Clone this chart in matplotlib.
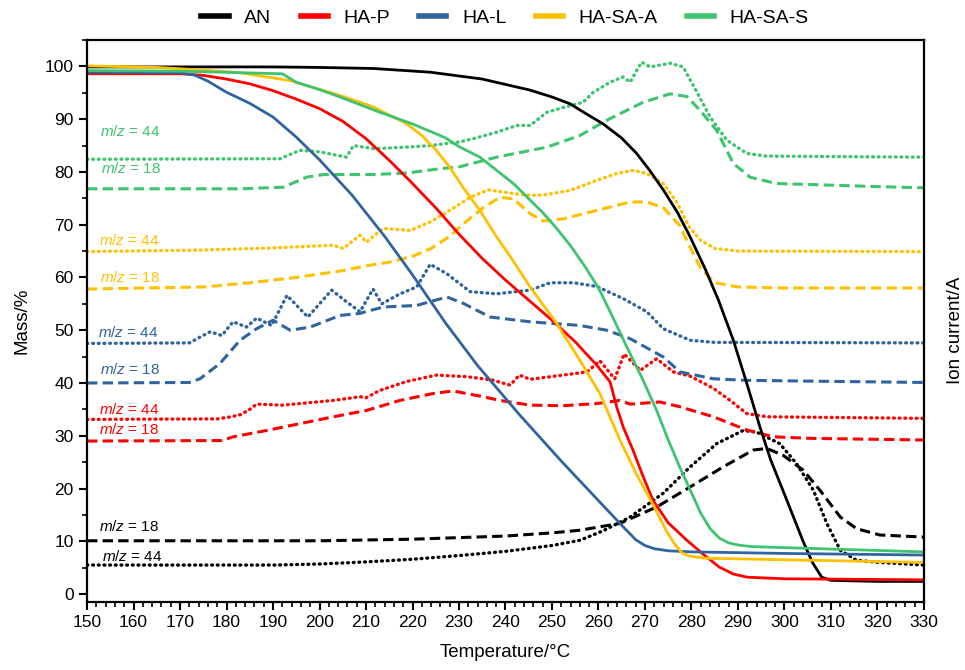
import matplotlib
matplotlib.use("Agg")
import matplotlib.pyplot as plt
from matplotlib.ticker import MultipleLocator

plt.rcParams['font.family'] = ['Liberation Sans', 'DejaVu Sans']
plt.rcParams['mathtext.fontset'] = 'custom'
plt.rcParams['mathtext.it'] = 'Liberation Sans:italic'
plt.rcParams['mathtext.rm'] = 'Liberation Sans'

# ---------------- Mass curves (TG) ----------------
an_T = [150, 170, 190, 200, 211.6, 223.8, 235, 245.3, 250, 253.9, 257, 261, 265, 268.2, 271, 274, 277, 279.7, 283, 285.8, 289, 291.9, 294.7, 297, 300.5, 304, 306, 308, 310, 320, 330]
an_m = [99.9, 99.9, 99.9, 99.8, 99.6, 98.9, 97.6, 95.5, 94.2, 92.9, 91.2, 89.1, 86.4, 83.5, 80.3, 76.5, 72.3, 67.7, 61.5, 55.7, 48.1, 39.9, 31.7, 25.5, 17.8, 10.0, 6.0, 3.2, 2.6, 2.4, 2.4]

hap_T = [150, 170, 175, 180, 185, 190, 195, 200, 205, 210, 215, 220, 225, 230, 235, 240, 245, 250, 255, 259.6, 262.5, 263.9, 265.3, 267.4, 269.5, 271.7, 275, 279, 283, 286, 289, 292, 300, 330]
hap_m = [98.6, 98.6, 98.3, 97.6, 96.7, 95.4, 93.8, 92.0, 89.6, 86.3, 82.2, 77.8, 73.2, 68.2, 63.6, 59.5, 55.7, 51.9, 47.8, 43.4, 40.2, 35.5, 31.7, 27.3, 22.5, 17.8, 13.5, 10.2, 7.2, 5.1, 3.8, 3.2, 2.9, 2.7]

hal_T = [150, 170, 173, 176, 180, 185, 190, 195, 200, 207, 214, 220, 227, 234, 243, 252, 260, 264.6, 268, 270, 272, 275, 280, 300, 330]
hal_m = [98.9, 98.8, 98.4, 97.2, 95.1, 93.0, 90.4, 86.6, 82.3, 75.6, 67.8, 60.5, 51.5, 43.3, 34.0, 25.2, 17.7, 13.4, 10.3, 9.2, 8.6, 8.2, 8.0, 7.7, 7.4]

haa_T = [150, 165, 175, 182.9, 193.7, 204.4, 211.6, 218.8, 222, 225, 228, 231, 234.5, 238, 241, 245.3, 251, 256, 260.3, 264.6, 268, 271.7, 274.7, 276.5, 278, 279.5, 283, 300, 330]
haa_m = [100.1, 99.8, 99.3, 98.8, 97.3, 94.5, 92.3, 89.1, 86.9, 84.2, 80.9, 76.9, 72.7, 67.8, 64.0, 58.2, 51.3, 44.3, 38.0, 29.2, 23.0, 17.0, 11.8, 9.3, 7.8, 7.2, 6.8, 6.5, 6.0]

has_T = [150, 170, 183, 192, 195, 200, 204.4, 213, 220, 227, 230, 234.5, 241.7, 248, 251, 254, 257, 260, 263, 266, 269.6, 272.5, 275, 277.5, 280, 282, 284, 286, 288, 290, 293, 300, 315, 330]
has_m = [99.2, 99.1, 98.8, 98.6, 97.0, 95.6, 94.2, 91.3, 89.1, 86.5, 84.8, 82.8, 77.8, 72.3, 69.3, 66.0, 62.2, 58.0, 52.6, 47.0, 40.5, 34.8, 29.2, 24.0, 19.2, 15.3, 12.4, 10.6, 9.7, 9.3, 9.0, 8.8, 8.4, 8.0]

# ---------------- Ion current curves (offset, arbitrary units) ----------------
an44_T = [150, 190, 200, 210, 220, 230, 240, 250, 256, 261, 266.8, 273.9, 279.7, 285.4, 291.1, 294, 299, 302.6, 306.2, 309.1, 312, 315.5, 320.5, 330]
an44_v = [5.5, 5.5, 5.7, 6.1, 6.6, 7.3, 8.1, 9.2, 10.2, 12.0, 14.6, 19.1, 24.1, 28.5, 31.0, 30.7, 28.5, 24.7, 19.7, 13.4, 8.3, 6.4, 6.0, 5.5]
an18_T = [150, 200, 220, 240, 250, 256, 264.6, 272.5, 279.7, 286.8, 293.3, 296.2, 299.7, 304, 307.6, 312, 315.5, 320.5, 330]
an18_v = [10.1, 10.1, 10.4, 11.0, 11.6, 12.1, 13.4, 16.5, 20.3, 24.1, 27.3, 27.6, 26.3, 23.5, 19.7, 14.6, 12.4, 11.2, 10.8]

hap44_T = [150, 178, 181, 183, 185, 186.5, 192, 203, 208.7, 210, 213, 218.8, 225.2, 231.6, 237, 241, 243, 245.3, 252.4, 257.5, 260.3, 263.5, 265.5, 269, 272.5, 276.1, 279.7, 284.7, 288.3, 291.9, 296.2, 330]
hap44_v = [33.1, 33.2, 33.6, 34.0, 35.0, 36.0, 35.8, 36.7, 37.4, 37.2, 38.6, 40.3, 41.5, 41.2, 40.6, 39.6, 41.5, 40.7, 41.5, 42.1, 44.2, 40.8, 45.5, 42.4, 44.6, 42.1, 41.3, 39.0, 36.7, 34.2, 33.6, 33.3]
hap18_T = [150, 179, 181.4, 188.6, 195.8, 203, 210.1, 217.3, 224.4, 228.7, 235.2, 238.8, 245.3, 252.4, 259.6, 264.6, 266.8, 273.2, 277.5, 284.7, 291.9, 297.6, 306.2, 330]
hap18_v = [29.0, 29.1, 29.8, 31.0, 32.3, 33.6, 34.8, 36.7, 38.0, 38.5, 37.4, 36.7, 35.8, 35.7, 36.1, 36.7, 36.0, 36.4, 35.5, 33.6, 31.1, 29.8, 29.5, 29.2]

hal44_T = [150, 172, 174.3, 176.5, 179, 181.4, 184.3, 186.5, 189.7, 193, 197.5, 202.6, 205.8, 208.7, 211.5, 213.4, 217.3, 220.9, 223.8, 227.4, 232.4, 238.1, 245.3, 249.6, 254.6, 259.6, 265.3, 270.4, 273.9, 279.7, 285, 330]
hal44_v = [47.5, 47.6, 48.7, 49.7, 49.0, 51.6, 50.6, 52.3, 50.9, 56.6, 52.5, 57.6, 55.4, 53.5, 57.8, 55.0, 56.9, 58.2, 62.5, 60.7, 57.3, 56.9, 57.6, 59.0, 59.0, 58.3, 56.0, 53.5, 50.3, 48.1, 47.7, 47.6]
hal18_T = [150, 172, 174.3, 178.6, 182.9, 186.5, 190, 193.7, 198, 204.4, 208.7, 213.7, 220.9, 227.4, 230.9, 236.7, 245.3, 256, 261.8, 266.8, 274, 277.5, 284.7, 291.9, 330]
hal18_v = [40.0, 40.1, 40.8, 43.7, 48.1, 50.3, 51.9, 50.0, 50.6, 52.8, 53.2, 54.4, 54.7, 56.3, 55.1, 52.5, 51.6, 50.9, 50.0, 48.4, 44.9, 42.1, 40.8, 40.5, 40.1]

haa44_T = [150, 175, 190, 203, 205.1, 208.7, 210.1, 213.7, 219.5, 224, 228, 232.4, 236.3, 241.7, 244.6, 248.1, 253.9, 259.6, 263.9, 267.5, 270.4, 273.9, 276.8, 279.5, 282, 285, 290, 330]
haa44_v = [64.9, 65.2, 65.6, 66.1, 65.5, 68.0, 66.7, 69.3, 68.9, 70.6, 72.7, 75.2, 76.6, 75.9, 75.6, 75.6, 76.5, 78.4, 79.7, 80.3, 79.7, 77.8, 74.3, 69.6, 67.0, 65.5, 65.0, 64.9]
haa18_T = [150, 175, 185, 195, 205, 210, 215, 220, 224, 228, 231, 235.2, 238.8, 241.7, 245.3, 248.1, 252.4, 259.6, 266.8, 270.4, 274, 277.5, 279.3, 282, 285, 290, 300, 330]
haa18_v = [57.8, 58.2, 59.0, 60.0, 61.3, 62.2, 62.9, 64.0, 65.5, 67.8, 70.2, 73.2, 75.2, 74.9, 72.1, 70.7, 71.1, 72.7, 74.3, 74.3, 73.2, 69.8, 66.4, 61.7, 59.0, 58.2, 58.0, 58.0]

has44_T = [150, 191.5, 195.8, 200.1, 205.8, 207.3, 211.6, 218.8, 223.8, 230.2, 233.1, 238, 242.4, 245.3, 248.9, 252.4, 256.7, 258.9, 262.5, 265.3, 266.8, 268.2, 269.3, 271.1, 275.4, 278.2, 281, 284, 287.6, 291.9, 296, 330]
has44_v = [82.4, 82.5, 84.1, 83.8, 82.8, 85.0, 84.4, 84.7, 85.0, 85.7, 86.3, 87.5, 88.8, 88.8, 91.3, 92.2, 93.2, 95.1, 97.0, 98.0, 97.0, 99.2, 100.8, 99.9, 100.6, 99.9, 95.4, 90.4, 86.0, 83.5, 83.0, 82.8]
has18_T = [150, 183, 192.2, 197.2, 200.8, 211.6, 218.8, 225.9, 230.2, 238.1, 248.9, 256, 261.8, 269.6, 275.4, 279, 281.8, 285.4, 289, 292.6, 298.3, 324.8, 330]
has18_v = [76.8, 76.8, 77.1, 79.0, 79.5, 79.5, 79.8, 80.6, 81.0, 82.8, 84.7, 86.9, 89.8, 93.2, 94.8, 94.3, 91.7, 87.9, 81.6, 79.0, 77.8, 77.1, 77.0]

names = ['AN', 'HA-P', 'HA-L', 'HA-SA-A', 'HA-SA-S']
colors = ['#000000', '#FF0000', '#30649F', '#FFC000', '#3DC46F']

# "m/z" annotations
label_text = ['44', '18', '44', '18', '44', '18', '44', '18', '18', '44']
label_T = [152.8, 153.0, 152.5, 152.8, 152.3, 152.8, 152.6, 152.6, 152.6, 153.2]
label_y = [87.6, 80.6, 67.0, 60.0, 49.6, 42.6, 35.0, 31.2, 12.9, 7.1]
label_col = [4, 4, 3, 3, 2, 2, 1, 1, 0, 0]

fig = plt.figure(figsize=(9.65, 6.70), dpi=100)
ax = fig.add_axes([87/965, 1 - 602/670, (924 - 87)/965, (602 - 40)/670])

dash = (0, (3.4, 1.7))
dot = (0, (0.25, 1.45))
ion = [(an44_T, an44_v, an18_T, an18_v), (hap44_T, hap44_v, hap18_T, hap18_v),
       (hal44_T, hal44_v, hal18_T, hal18_v), (haa44_T, haa44_v, haa18_T, haa18_v),
       (has44_T, has44_v, has18_T, has18_v)]
for (t44, v44, t18, v18), c in zip(ion, colors):
    ax.plot(t44, v44, color=c, lw=2.4, linestyle=dot, dash_capstyle='round',
            dash_joinstyle='round')
    ax.plot(t18, v18, color=c, lw=2.2, linestyle=dash, dash_joinstyle='round')

mass = [(an_T, an_m), (hap_T, hap_m), (hal_T, hal_m), (haa_T, haa_m), (has_T, has_m)]
handles = []
for (t, m), c, n in zip(mass, colors, names):
    h, = ax.plot(t, m, color=c, lw=2.0, label=n, solid_joinstyle='round')
    handles.append(h)

for txt, tx, ty, ci in zip(label_text, label_T, label_y, label_col):
    ax.text(tx, ty, r'$m/z$ = ' + txt, color=colors[ci], fontsize=11,
            ha='left', va='center')

ax.set_xlim(150, 330)
ax.set_ylim(-1.5, 105)
ax.xaxis.set_major_locator(MultipleLocator(10))
ax.xaxis.set_minor_locator(MultipleLocator(2))
ax.yaxis.set_major_locator(MultipleLocator(10))
ax.yaxis.set_minor_locator(MultipleLocator(5))
ax.tick_params(axis='both', which='major', direction='out', length=6, width=1.5, labelsize=12.5)
ax.tick_params(axis='both', which='minor', direction='out', length=3.5, width=1.2)
ax.set_yticks(range(0, 101, 10))
for s in ax.spines.values():
    s.set_linewidth(1.6)

ax.set_xlabel('Temperature/°C', fontsize=13.5, labelpad=10)
ax.set_ylabel('Mass/%', fontsize=13.5, labelpad=10)
fig.text(955/965, 1 - 330/670, 'Ion current/A', rotation=90, fontsize=13.5,
         ha='center', va='center')

leg = fig.legend(handles=handles, loc='center', bbox_to_anchor=(505/965, 1 - 18/670),
                 ncol=5, frameon=False, fontsize=14, handlelength=1.4,
                 handletextpad=0.8, columnspacing=1.5)
for lh in leg.get_lines():
    lh.set_linewidth(4)

fig.savefig('out.png', dpi=100)
